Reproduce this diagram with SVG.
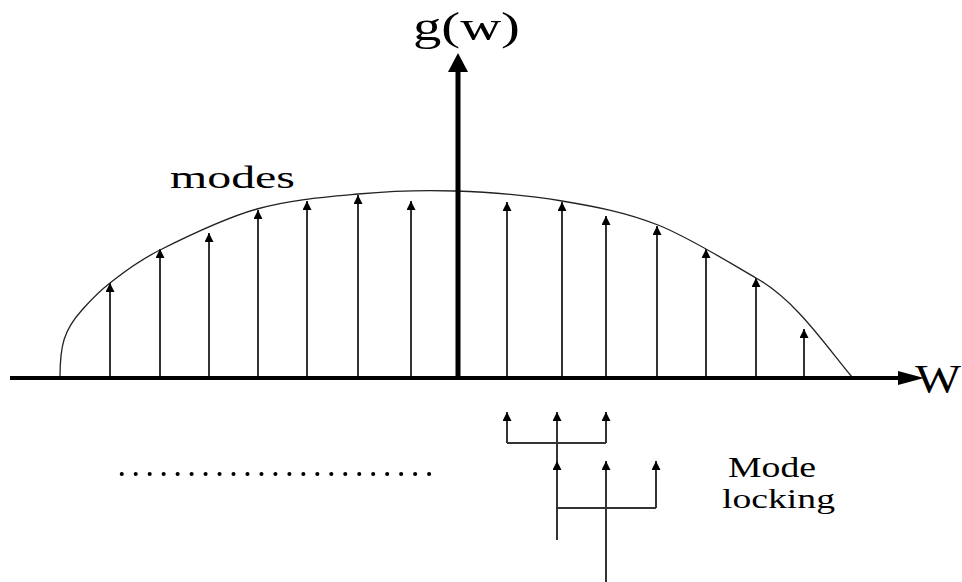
<svg xmlns="http://www.w3.org/2000/svg" width="962" height="582" viewBox="0 0 962 582">
<style>
.lbl{font-family:"Liberation Serif","Times New Roman",serif;fill:#000}
.mode{stroke:#333;stroke-width:2;fill:none;marker-end:url(#ah)}
.lk{stroke:#333;stroke-width:2;fill:none}
.lka{stroke:#333;stroke-width:2;fill:none;marker-end:url(#ah)}
</style>
<defs>
<marker id="ah" viewBox="0 0 10 10" refX="10" refY="5" markerWidth="9" markerHeight="9" markerUnits="userSpaceOnUse" orient="auto">
<path d="M0,0 L10,5 L0,10 z" fill="#000"/>
</marker>
</defs>
<rect width="962" height="582" fill="#fff"/>
<g id="curve">
<path d="M60,377 C60,345 64,330 82,310 C91,300 97,293 110,283 C123,273 135.5,262.3 160,250 C184.5,237.7 224,218.3 257,209 C290,199.7 325,197 358,194 C391,191 421,189.8 455,191 C489,192.2 528.2,195.3 562,201 C595.8,206.7 625.7,212.2 658,225 C690.3,237.8 734,265.5 756,278 C795,300 823,342 852,377" fill="none" stroke="#222" stroke-width="1.3"/>
</g>
<g id="modes">
<line class="mode" x1="110" y1="377" x2="110" y2="283"/>
<line class="mode" x1="160" y1="377" x2="160" y2="249"/>
<line class="mode" x1="209" y1="377" x2="209" y2="233"/>
<line class="mode" x1="258" y1="377" x2="258" y2="210"/>
<line class="mode" x1="307" y1="377" x2="307" y2="201"/>
<line class="mode" x1="358" y1="377" x2="358" y2="195"/>
<line class="mode" x1="411" y1="377" x2="411" y2="201"/>
<line class="mode" x1="507" y1="377" x2="507" y2="202"/>
<line class="mode" x1="562" y1="377" x2="562" y2="202"/>
<line class="mode" x1="606" y1="377" x2="606" y2="216"/>
<line class="mode" x1="657" y1="377" x2="657" y2="226"/>
<line class="mode" x1="706" y1="377" x2="706" y2="249"/>
<line class="mode" x1="756" y1="377" x2="756" y2="278"/>
<line class="mode" x1="804" y1="377" x2="804" y2="329"/>
</g>
<g id="axes">
<line x1="10" y1="378" x2="900" y2="378" stroke="#000" stroke-width="4"/>
<polygon points="898,371 924,378 898,385" fill="#000"/>
<line x1="458" y1="378" x2="458" y2="70" stroke="#000" stroke-width="5"/>
<polygon points="448,72 458,53 468,72" fill="#000"/>
</g>
<g id="mode-locking">
<line class="lk" x1="507" y1="443" x2="606" y2="443"/>
<line class="lka" x1="507" y1="443" x2="507" y2="412"/>
<line class="lka" x1="606" y1="443" x2="606" y2="412"/>
<line class="lka" x1="557" y1="461" x2="557" y2="412"/>
<line class="lka" x1="557" y1="540" x2="557" y2="461"/>
<line class="lk" x1="557" y1="508" x2="656" y2="508"/>
<line class="lka" x1="656" y1="508" x2="656" y2="461"/>
<line class="lka" x1="606" y1="582" x2="606" y2="461"/>
</g>
<g id="dots">
<line x1="121.7" y1="474" x2="443" y2="474" stroke="#000" stroke-width="4" stroke-linecap="round" stroke-dasharray="0.1 13.87"/>
</g>
<g id="labels">
<text class="lbl" x="413" y="40" font-size="41" textLength="107" lengthAdjust="spacingAndGlyphs">g(w)</text>
<text class="lbl" x="170" y="188" font-size="31" textLength="125" lengthAdjust="spacingAndGlyphs">modes</text>
<text class="lbl" x="915" y="392" font-size="41" textLength="46" lengthAdjust="spacingAndGlyphs">W</text>
<text class="lbl" x="728" y="477" font-size="30" textLength="88" lengthAdjust="spacingAndGlyphs">Mode</text>
<text class="lbl" x="722" y="508" font-size="28" textLength="113" lengthAdjust="spacingAndGlyphs">locking</text>
</g>
</svg>
